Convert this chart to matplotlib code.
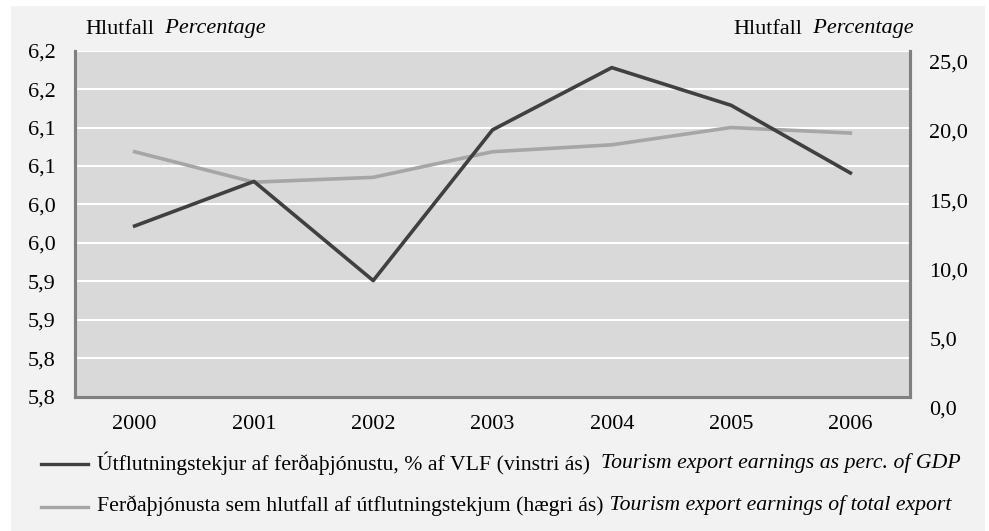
import matplotlib
matplotlib.use("Agg")
import matplotlib.pyplot as plt
import numpy as np
from matplotlib.lines import Line2D
from matplotlib.patches import Rectangle
from matplotlib.text import Annotation
from matplotlib.transforms import ScaledTranslation

# ── Data ──────────────────────────────────────────────────────────────────────
years = ["2000", "2001", "2002", "2003", "2004", "2005", "2006"]
gdp_share = [6.002, 6.060, 5.931, 6.127, 6.208, 6.159, 6.071]      # left axis
export_share = [17.7, 15.5, 15.85, 17.7, 18.2, 19.45, 19.05]       # right axis

left_ticks = [5.78, 5.83, 5.88, 5.93, 5.98, 6.03, 6.08, 6.13, 6.18, 6.23]
right_ticks = [0, 5, 10, 15, 20, 25]

label_gdp_is = "Útflutningstekjur af ferðaþjónustu, % af VLF (vinstri ás)"
label_gdp_en = "Tourism export earnings as perc. of GDP"
label_exp_is = "Ferðaþjónusta sem hlutfall af útflutningstekjum (hægri ás)"
label_exp_en = "Tourism export earnings of total export"

# ── Style ─────────────────────────────────────────────────────────────────────
C = {
    "outer":  "#f2f2f2",
    "panel":  "#d9d9d9",
    "grid":   "#ffffff",
    "spine":  "#808080",
    "dark":   "#404040",
    "light":  "#a6a6a6",
    "text":   "#000000",
}
plt.rcParams["font.family"] = ["Liberation Serif", "DejaVu Serif"]
FS = 16

W, H = 989, 531
fig = plt.figure(figsize=(W / 100, H / 100), dpi=100, facecolor="white")
fig.patches.append(Rectangle((11 / W, 0), (985 - 11) / W, 1 - 6 / H,
                             transform=fig.transFigure, facecolor=C["outer"],
                             edgecolor="none", zorder=-10))

ax = fig.add_axes([75 / W, 1 - 396.7 / H, (910 - 75) / W, (396.7 - 50.7) / H])
ax2 = ax.twinx()
# panel + gridlines live on ax2 (behind), dark line on ax (front)
ax2.set_zorder(0)
ax.set_zorder(1)
ax.patch.set_visible(False)
ax2.patch.set_visible(True)
ax2.set_facecolor(C["panel"])

x = np.arange(len(years))
l2, = ax2.plot(x, export_share, color=C["light"], lw=2.6, zorder=3)
l1, = ax.plot(x, gdp_share, color=C["dark"], lw=2.6, zorder=4)

ax.set_xlim(-0.5, len(years) - 0.5)
ax.set_ylim(5.78, 6.23)
ax2.set_ylim(0, 25)

ax.set_xticks(x)
ax.set_xticklabels(years)
ax.set_yticks(left_ticks)
ax.set_yticklabels([f"{v:.1f}".replace(".", ",") for v in left_ticks])
ax2.set_yticks(right_ticks)
ax2.set_yticklabels([f"{v:.1f}".replace(".", ",") for v in right_ticks])

# white gridlines at the left-axis ticks
for v in left_ticks:
    ax2.axhline((v - 5.78) / (6.23 - 5.78) * 25, color=C["grid"], lw=1.5, zorder=1)

ax.tick_params(axis="both", length=0, labelsize=FS, colors=C["text"])
ax.tick_params(axis="x", pad=13)
ax.tick_params(axis="y", pad=14)
ax2.tick_params(axis="y", length=0, labelsize=FS, colors=C["text"], pad=14)

# right-hand labels sit a little lower in the original
shift = ScaledTranslation(0, -11 / 100, fig.dpi_scale_trans)
for lab in ax2.get_yticklabels():
    lab.set_transform(lab.get_transform() + shift)

for a in (ax, ax2):
    for side in ("left", "bottom", "right"):
        a.spines[side].set_color(C["spine"])
        a.spines[side].set_linewidth(2.2)
    a.spines["top"].set_visible(False)


def two_part(x0, y0, regular, italic, size, gap=" "):
    """Regular text followed by an italic part."""
    t1 = fig.text(x0, y0, regular, fontsize=size, va="center", ha="left")
    t2 = Annotation(gap + italic, xy=(1, 0.5), xycoords=t1, va="center",
                    ha="left", fontsize=size, fontstyle="italic")
    fig.add_artist(t2)
    return t1, t2


# ── Axis titles ──────────────────────────────────────────────────────────────
two_part(85 / W, 1 - 29 / H, "Hlutfall", "Percentage", FS, gap="  ")
two_part(733 / W, 1 - 29 / H, "Hlutfall", "Percentage", FS, gap="  ")

# ── Legend ───────────────────────────────────────────────────────────────────
for yy, line, reg, it, gap in [(464, l1, label_gdp_is, label_gdp_en, "  "),
                               (506.5, l2, label_exp_is, label_exp_en, " ")]:
    fig.add_artist(Line2D([41 / W, 88 / W], [1 - yy / H, 1 - yy / H],
                          transform=fig.transFigure, color=line.get_color(), lw=2.4))
    two_part(97 / W, 1 - (yy - 1) / H, reg, it, 15.7, gap=gap)

fig.savefig("out.png", dpi=100, facecolor=fig.get_facecolor())
